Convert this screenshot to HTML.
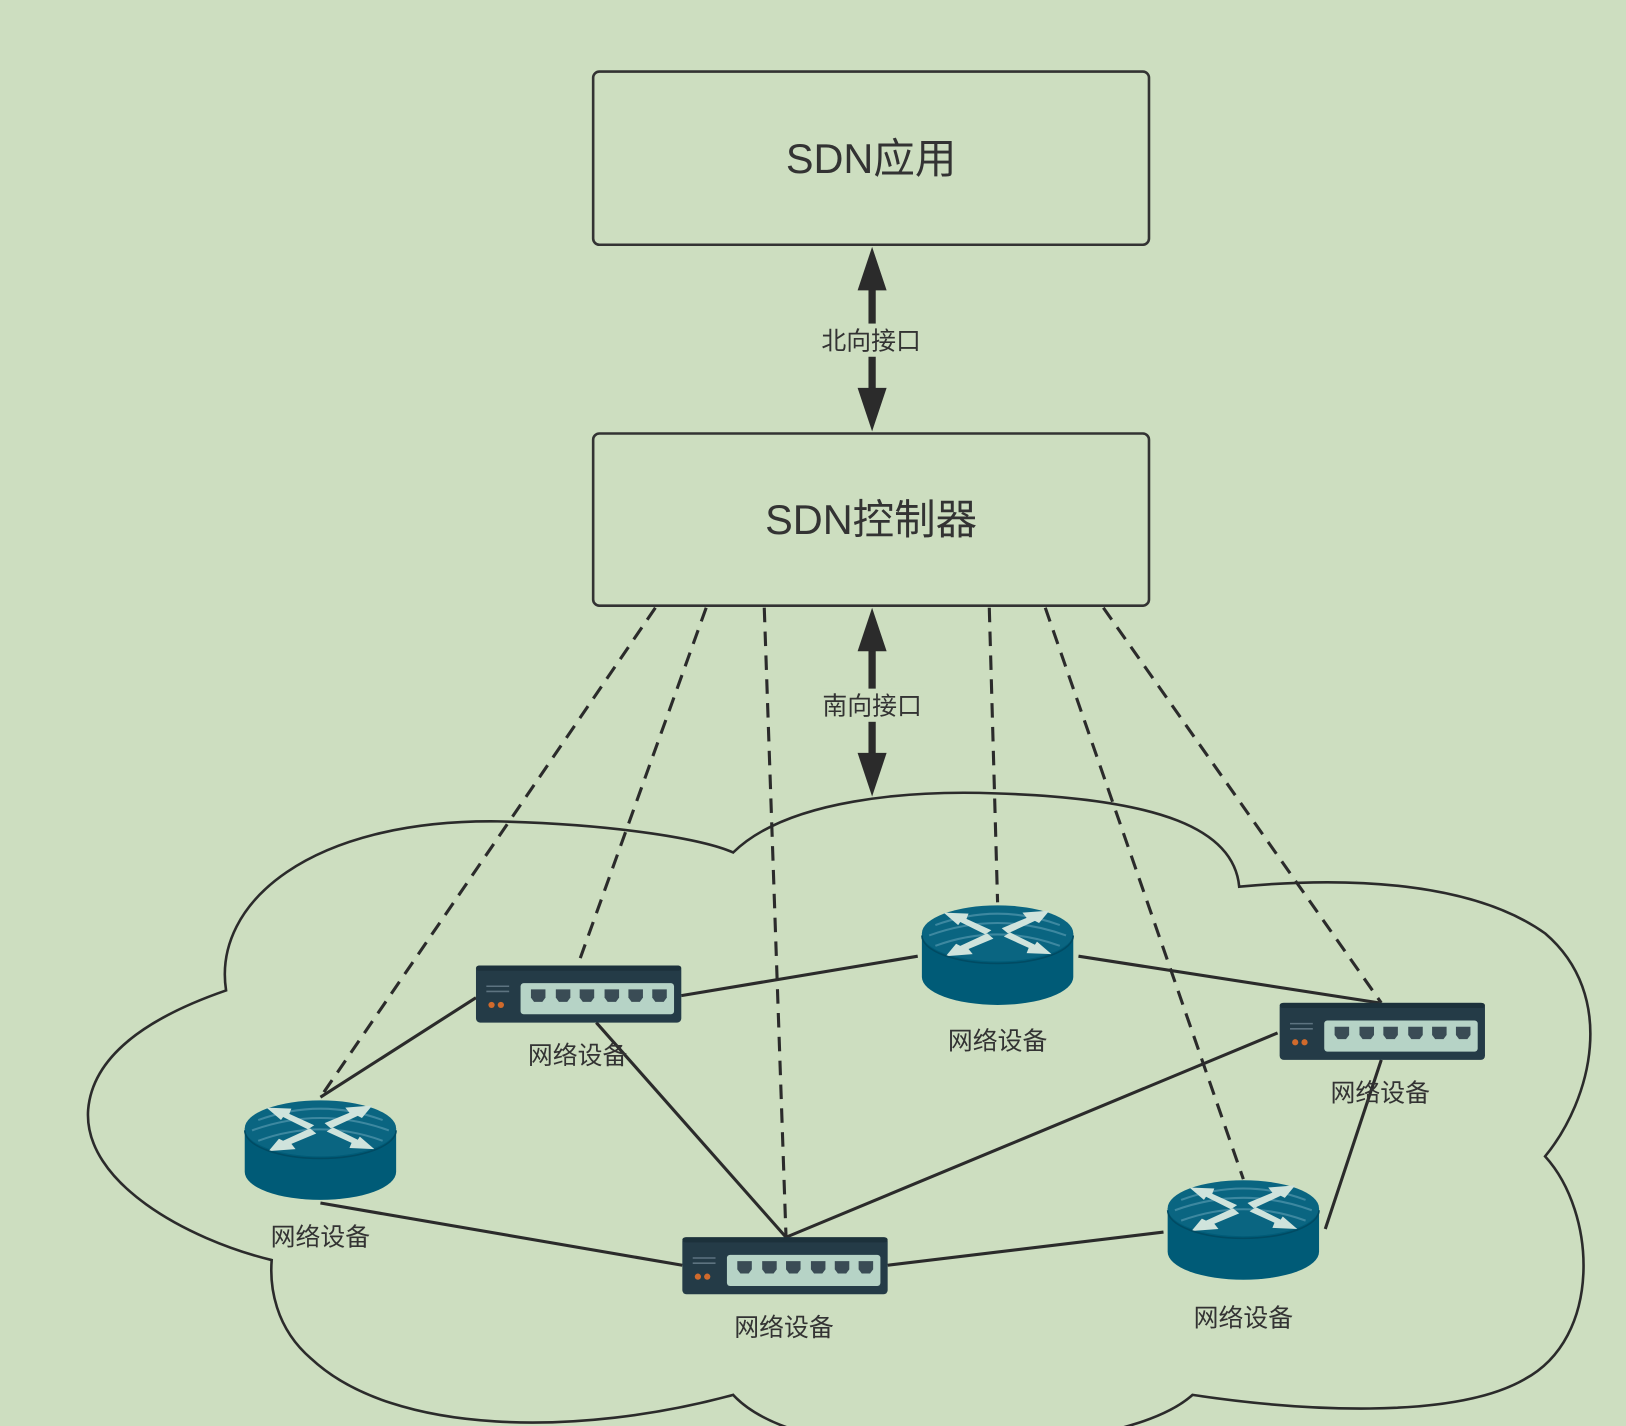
<!DOCTYPE html>
<html><head><meta charset="utf-8"><style>
html,body{margin:0;padding:0;background:#cddec0;}
svg{display:block}
text{font-family:"Liberation Sans","Noto Sans CJK SC",sans-serif;fill:#333;}
</style></head><body>
<svg width="1626" height="1426" viewBox="0 0 1568 1375" preserveAspectRatio="none" xmlns="http://www.w3.org/2000/svg">
<defs>
<g id="router">
  <path d="M-73,0 L-73,42 A73,27 0 0 0 73,42 L73,0 Z" fill="#005b77"/>
  <ellipse cx="0" cy="0" rx="73" ry="27" fill="#0a6581"/>
  <g stroke="#3d88a0" stroke-width="2" fill="none">
    <path d="M-60,-8 Q0,-30 60,-8"/><path d="M-66,2 Q0,-22 66,2"/><path d="M-60,12 Q0,-10 60,12"/>
  </g>
  <g fill="#cfe3dc">
    <polygon points="-6,-3 -30,-14 -28,-19 -52,-20 -38,-8 -36,-11 -12,1"/>
    <polygon points="6,3 30,14 28,19 52,20 38,8 36,11 12,-1"/>
    <polygon points="4,-5 28,-15 24,-20 50,-22 40,-10 36,-12 10,0"/>
    <polygon points="-4,5 -28,15 -24,20 -50,22 -40,10 -36,12 -10,0"/>
  </g>
  <path d="M-73,2 A73,27 0 0 0 73,2" stroke="#004b63" stroke-width="1.5" fill="none"/>
</g>
<g id="switch">
  <rect x="0" y="0" width="198" height="55" rx="4" fill="#243b47"/>
  <rect x="0" y="0" width="198" height="5" rx="3" fill="#1c313b"/>
  <line x1="10" y1="20" x2="32" y2="20" stroke="#5d7380" stroke-width="1.5"/>
  <line x1="10" y1="25" x2="32" y2="25" stroke="#5d7380" stroke-width="1.5"/>
  <circle cx="15" cy="38" r="3" fill="#d06a2c"/><circle cx="24" cy="38" r="3" fill="#d06a2c"/>
  <rect x="43" y="17" width="148" height="30" rx="3" fill="#b6d3c6"/>
  <g fill="#3a4c55">
    <path d="M53,23 h14 v8 l-3,4 h-8 l-3,-4z"/>
    <path d="M77,23 h14 v8 l-3,4 h-8 l-3,-4z"/>
    <path d="M100,23 h14 v8 l-3,4 h-8 l-3,-4z"/>
    <path d="M124,23 h14 v8 l-3,4 h-8 l-3,-4z"/>
    <path d="M147,23 h14 v8 l-3,4 h-8 l-3,-4z"/>
    <path d="M170,23 h14 v8 l-3,4 h-8 l-3,-4z"/>
  </g>
</g>
</defs>

<path d="M218,955 C205,870 300,790 480,792 C600,795 680,810 707,822 C760,770 880,762 960,765 C1120,770 1190,800 1195,855 C1300,845 1420,850 1490,900 C1560,960 1535,1060 1490,1115 C1540,1170 1545,1290 1470,1330 C1400,1370 1250,1360 1150,1345 C1100,1390 950,1400 860,1395 C780,1390 730,1370 707,1345 C560,1385 380,1385 300,1310 C265,1280 260,1240 262,1215 C180,1195 80,1140 85,1070 C90,1010 160,975 218,955 Z" fill="none" stroke="#2b2b2b" stroke-width="2.5"/>

<rect x="572" y="69" width="536" height="167" rx="6" fill="none" stroke="#333" stroke-width="2.5"/>
<text x="840" y="167" font-size="40" text-anchor="middle">SDN应用</text>
<rect x="572" y="418" width="536" height="166" rx="6" fill="none" stroke="#333" stroke-width="2.5"/>
<text x="840" y="515" font-size="40" text-anchor="middle">SDN控制器</text>

<g fill="#2b2b2b" stroke="#2b2b2b">
  <line x1="841" y1="270" x2="841" y2="385" stroke-width="7"/>
  <polygon points="841,238 827,280 855,280" stroke="none"/>
  <polygon points="841,416 827,374 855,374" stroke="none"/>
  <line x1="841" y1="620" x2="841" y2="735" stroke-width="7"/>
  <polygon points="841,586 827,628 855,628" stroke="none"/>
  <polygon points="841,768 827,726 855,726" stroke="none"/>
</g>
<rect x="790" y="312" width="102" height="32" fill="#cddec0"/>
<text x="840" y="337" font-size="24" text-anchor="middle">北向接口</text>
<rect x="790" y="664" width="102" height="32" fill="#cddec0"/>
<text x="841" y="689" font-size="24" text-anchor="middle">南向接口</text>

<g stroke="#2b2b2b" stroke-width="3" fill="none">
  <line x1="309" y1="1058" x2="459" y2="962"/>
  <line x1="657" y1="960" x2="885" y2="922"/>
  <line x1="1040" y1="922" x2="1330" y2="967"/>
  <line x1="1232" y1="996" x2="758" y2="1193"/>
  <line x1="575" y1="986" x2="758" y2="1193"/>
  <line x1="309" y1="1160" x2="658" y2="1220"/>
  <line x1="856" y1="1220" x2="1122" y2="1188"/>
  <line x1="1278" y1="1185" x2="1332" y2="1022"/>
</g>
<g stroke="#2b2b2b" stroke-width="3" fill="none" stroke-dasharray="14,9">
  <line x1="632" y1="586" x2="309" y2="1058"/>
  <line x1="681" y1="586" x2="557" y2="931"/>
  <line x1="737" y1="586" x2="758" y2="1193"/>
  <line x1="954" y1="586" x2="962" y2="870"/>
  <line x1="1008" y1="586" x2="1199" y2="1137"/>
  <line x1="1064" y1="586" x2="1332" y2="967"/>
</g>

<use href="#router" x="309" y="1088"/>
<use href="#router" x="962" y="900"/>
<use href="#router" x="1199" y="1165"/>
<use href="#switch" x="459" y="931"/>
<use href="#switch" x="1234" y="967"/>
<use href="#switch" x="658" y="1193"/>

<g font-size="24" text-anchor="middle">
  <text x="309" y="1201">网络设备</text>
  <text x="557" y="1026">网络设备</text>
  <text x="962" y="1012">网络设备</text>
  <text x="1331" y="1062">网络设备</text>
  <text x="1199" y="1279">网络设备</text>
  <text x="756" y="1288">网络设备</text>
</g>
</svg>
</body></html>
